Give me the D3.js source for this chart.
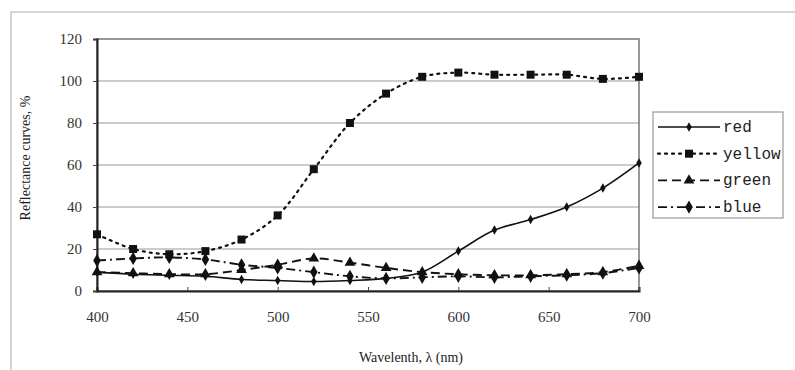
<!DOCTYPE html>
<html>
<head>
<meta charset="utf-8">
<script src="https://cdn.jsdelivr.net/npm/d3@7"></script>
<style>
  body { margin: 0; background: #fff; }
  svg { display: block; font-family: "Liberation Serif", "DejaVu Serif", serif; }
</style>
</head>
<body>
<div id="chart"></div>
<script>
// data
const wavelengths = [400, 420, 440, 460, 480, 500, 520, 540, 560, 580, 600, 620, 640, 660, 680, 700];
const red    = [9, 8, 7.5, 7, 5.5, 5, 4.5, 5, 6, 9, 19, 29, 34, 40, 49, 61];
const yellow = [27, 20, 17.5, 19, 24.5, 36, 58, 80, 94, 102, 104, 103, 103, 103, 101, 102];
const green  = [9, 8.5, 8, 8, 10, 12.5, 15.5, 13.5, 11, 9, 8, 7.5, 7.5, 8, 9, 12];
const blue   = [14.5, 15.5, 16, 15, 12.5, 11, 9, 7, 6, 6.5, 7, 6.5, 7, 7.5, 8.5, 11];
const seriesNames = ['red', 'yellow', 'green', 'blue'];
const xTicks = [400, 450, 500, 550, 600, 650, 700];
const yTicks = [0, 20, 40, 60, 80, 100, 120];

const width = 795, height = 370;
const margin = {top: 39, right: 156, bottom: 79, left: 97};

const styles = {
    red:    {dash: null,        marker: 'diamond',  size: 26, width: 1.6},
    yellow: {dash: '2,5',       marker: 'square',   size: 64, width: 2.2},
    green:  {dash: '9,5',       marker: 'triangle', size: 50, width: 1.9},
    blue:   {dash: '9,4,2,4',   marker: 'diamond',  size: 50, width: 1.9}
};
const seriesData = {red: red, yellow: yellow, green: green, blue: blue};

const svg = d3.select('#chart').append('svg')
    .attr('width', width)
    .attr('height', height);

// outer chart border (runs off the page on right and bottom)
svg.append('rect')
    .attr('x', 11).attr('y', 12)
    .attr('width', 800).attr('height', 400)
    .attr('fill', 'none')
    .attr('stroke', '#aaa')
    .attr('stroke-width', 1);

const xScale = d3.scaleLinear()
    .domain([400, 700])
    .range([margin.left, width - margin.right]);

const yScale = d3.scaleLinear()
    .domain([0, 120])
    .range([height - margin.bottom, margin.top]);

// gridlines
svg.append('g')
    .selectAll('line')
    .data(yTicks.filter(d => d > 0 && d < 120))
    .join('line')
    .attr('x1', xScale(400)).attr('x2', xScale(700))
    .attr('y1', d => yScale(d)).attr('y2', d => yScale(d))
    .attr('stroke', '#999')
    .attr('stroke-width', 1.2);

// plot frame
svg.append('rect')
    .attr('x', xScale(400)).attr('y', yScale(120))
    .attr('width', xScale(700) - xScale(400))
    .attr('height', yScale(0) - yScale(120))
    .attr('fill', 'none')
    .attr('stroke', '#777')
    .attr('stroke-width', 1.5);

// axes
const xAxis = svg.append('g')
    .attr('transform', 'translate(0,' + yScale(0) + ')')
    .call(d3.axisBottom(xScale).tickValues(xTicks).tickSize(-4).tickPadding(20));
const yAxis = svg.append('g')
    .attr('transform', 'translate(' + xScale(400) + ',0)')
    .call(d3.axisLeft(yScale).tickValues(yTicks).tickSize(4).tickPadding(11));

[xAxis, yAxis].forEach(a => {
    a.select('.domain').attr('stroke', '#222').attr('stroke-width', 2);
    a.selectAll('.tick line').attr('stroke', '#444');
    a.selectAll('.tick text')
        .attr('fill', '#333')
        .attr('font-size', 15)
        .attr('font-family', '"Liberation Serif", serif');
});

// axis titles
svg.append('text')
    .attr('transform', 'translate(30,' + 158 + ') rotate(-90)')
    .attr('text-anchor', 'middle')
    .attr('font-size', 14)
    .attr('fill', '#222')
    .text('Reflectance curves, %');

svg.append('text')
    .attr('x', 411).attr('y', 362)
    .attr('text-anchor', 'middle')
    .attr('font-size', 14)
    .attr('fill', '#222')
    .text('Wavelenth, λ (nm)');

const symbolType = {
    circle: d3.symbolCircle,
    square: d3.symbolSquare,
    triangle: d3.symbolTriangle,
    diamond: d3.symbolDiamond
};

const line = d3.line()
    .x((d, i) => xScale(wavelengths[i]))
    .y(d => yScale(d))
    .curve(d3.curveCatmullRom.alpha(0.5));

const plot = svg.append('g');

seriesNames.forEach(name => {
    const st = styles[name];
    const vals = seriesData[name];
    plot.append('path')
        .datum(vals)
        .attr('fill', 'none')
        .attr('stroke', '#111')
        .attr('stroke-width', st.width)
        .attr('stroke-dasharray', st.dash)
        .attr('stroke-linecap', name === 'yellow' ? 'round' : 'butt')
        .attr('d', line);
    plot.append('g')
        .selectAll('path')
        .data(vals)
        .join('path')
        .attr('transform', (d, i) => 'translate(' + xScale(wavelengths[i]) + ',' + yScale(d) + ')')
        .attr('d', d3.symbol().type(symbolType[st.marker]).size(st.size))
        .attr('fill', '#111');
});

// legend
const legend = svg.append('g');
legend.append('rect')
    .attr('x', 653).attr('y', 112)
    .attr('width', 130).attr('height', 106)
    .attr('fill', '#fff')
    .attr('stroke', '#999')
    .attr('stroke-width', 1.2);

seriesNames.forEach((name, i) => {
    const st = styles[name];
    const y = 127 + i * 26.7;
    legend.append('line')
        .attr('x1', 658).attr('x2', 720)
        .attr('y1', y).attr('y2', y)
        .attr('stroke', '#111')
        .attr('stroke-width', st.width)
        .attr('stroke-dasharray', st.dash)
        .attr('stroke-linecap', name === 'yellow' ? 'round' : 'butt');
    legend.append('path')
        .attr('transform', 'translate(689,' + y + ')')
        .attr('d', d3.symbol().type(symbolType[st.marker]).size(st.size))
        .attr('fill', '#111');
    legend.append('text')
        .attr('x', 723).attr('y', y + 5)
        .attr('font-size', 16)
        .attr('font-family', '"Liberation Mono", "DejaVu Sans Mono", monospace')
        .attr('fill', '#222')
        .text(name);
});
</script>
</body>
</html>
